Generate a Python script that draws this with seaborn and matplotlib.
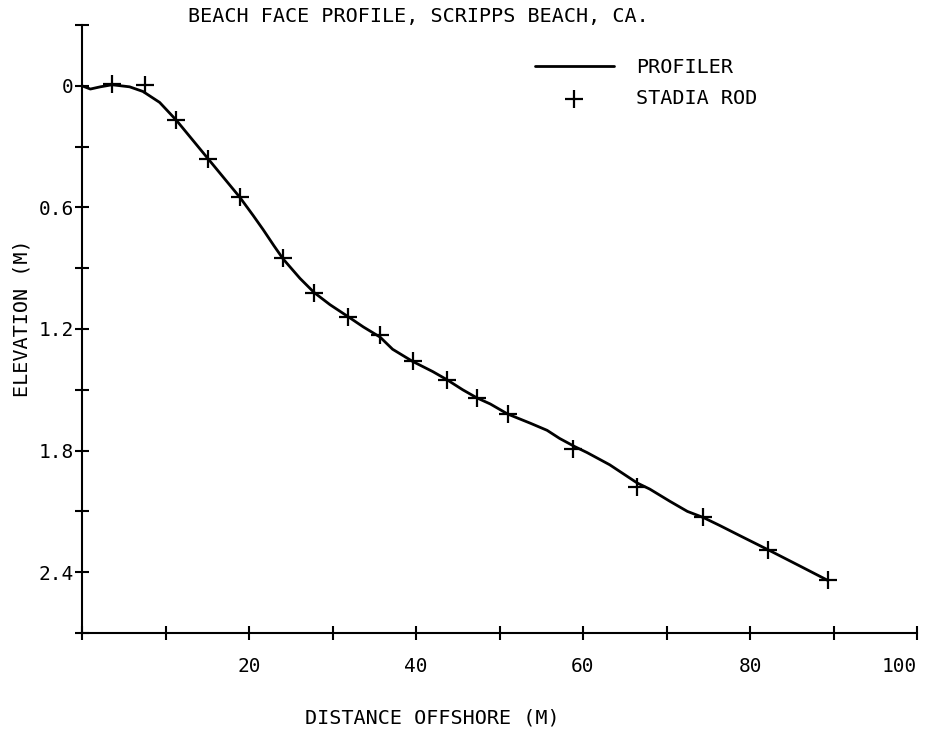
import numpy as np
import matplotlib
matplotlib.use("Agg")
import matplotlib.pyplot as plt
import seaborn as sns

# profiler trace: distance offshore (m) and elevation below datum (m)
profiler_x = [0.0, 1.0, 2.2, 3.6, 5.7, 7.3, 9.3, 11.3, 13.2, 15.1, 17.0, 18.9,
              20.5, 21.7, 23.0, 24.1, 26.1, 27.8, 29.7, 31.9, 33.7, 35.7, 37.2,
              39.6, 42.0, 43.7, 45.6, 47.3, 48.9, 51.0, 53.7, 55.7, 57.2, 59.0,
              60.5, 63.2, 66.5, 68.0, 70.4, 72.5, 74.4, 76.4, 78.8, 82.2, 86.0, 89.3]
profiler_y = [0.000, 0.016, 0.005, -0.005, 0.005, 0.028, 0.082, 0.17, 0.265, 0.36, 0.455, 0.55,
              0.64, 0.71, 0.79, 0.855, 0.95, 1.02, 1.08, 1.14, 1.19, 1.24, 1.30,
              1.36, 1.41, 1.45, 1.50, 1.54, 1.57, 1.62, 1.665, 1.70, 1.74, 1.78,
              1.81, 1.87, 1.96, 1.99, 2.05, 2.10, 2.13, 2.17, 2.22, 2.29, 2.37, 2.44]

# stadia rod survey points
stadia_x = [3.6, 7.5, 11.3, 15.1, 18.9, 24.1, 27.8, 31.9, 35.7, 39.6, 43.7, 47.3,
            51.0, 58.8, 66.5, 74.4, 82.2, 89.3]
stadia_y = [-0.01, -0.005, 0.17, 0.36, 0.55, 0.85, 1.02, 1.14, 1.23, 1.36, 1.45, 1.54,
            1.62, 1.79, 1.98, 2.13, 2.29, 2.44]

x_ticks = np.arange(0, 101, 10)
x_labels = ["", "", "20", "", "40", "", "60", "", "80", "", "100"]
y_ticks = np.round(np.arange(-0.3, 2.71, 0.3), 1)
y_labels = ["", "0", "", "0.6", "", "1.2", "", "1.8", "", "2.4", ""]

sns.set_style("ticks")
plt.rcParams['font.family'] = ['DejaVu Sans Mono', 'DejaVu Sans']
plt.rcParams['text.color'] = 'black'
plt.rcParams['axes.labelcolor'] = 'black'

fig = plt.figure(figsize=(9.27, 7.34), dpi=100)
ax = fig.add_axes([82 / 927, 1 - 633 / 734, 835 / 927, 608 / 734])

sns.lineplot(x=profiler_x, y=profiler_y, color="black", linewidth=2,
             label="PROFILER", ax=ax)
sns.scatterplot(x=stadia_x, y=stadia_y, marker="+", color="black", s=150,
                linewidth=1.6, label="STADIA ROD", ax=ax, zorder=3)

ax.set_xlim(0, 100)
ax.set_ylim(2.7, -0.3)
ax.set_xticks(x_ticks)
ax.set_xticklabels(x_labels)
ax.set_yticks(y_ticks)
ax.set_yticklabels(y_labels)
ax.tick_params(axis="both", direction="inout", length=10, width=1.5,
               labelsize=14, colors="black")
ax.tick_params(axis="x", pad=12)
ax.tick_params(axis="y", pad=1)
ax.get_xticklabels()[-1].set_ha("right")
sns.despine(ax=ax)
for s in ["left", "bottom"]:
    ax.spines[s].set_linewidth(1.5)
    ax.spines[s].set_color("black")

ax.set_xlabel("DISTANCE OFFSHORE (M)", fontsize=14.5)
ax.xaxis.set_label_coords((432.5 - 82) / 835, (633 - 718) / 608)
ax.xaxis.label.set_va("center")
ax.set_ylabel("ELEVATION (M)", fontsize=14.5)
ax.yaxis.set_label_coords((22 - 82) / 835, 1 - (318 - 25) / 608)
ax.yaxis.label.set_va("center")

ax.text((188 - 82) / 835, 1 + (25 - 16.5) / 608, "BEACH FACE PROFILE, SCRIPPS BEACH, CA.",
        transform=ax.transAxes, fontsize=14.5, va="center", ha="left")

leg = ax.legend(loc="upper left", bbox_to_anchor=(535 / 927, 1 - 58 / 734),
                bbox_transform=fig.transFigure, frameon=False, fontsize=14.5,
                handlelength=3.9, handletextpad=1.1, labelspacing=0.6,
                borderpad=0, borderaxespad=0)

fig.savefig("out.png", dpi=100)
